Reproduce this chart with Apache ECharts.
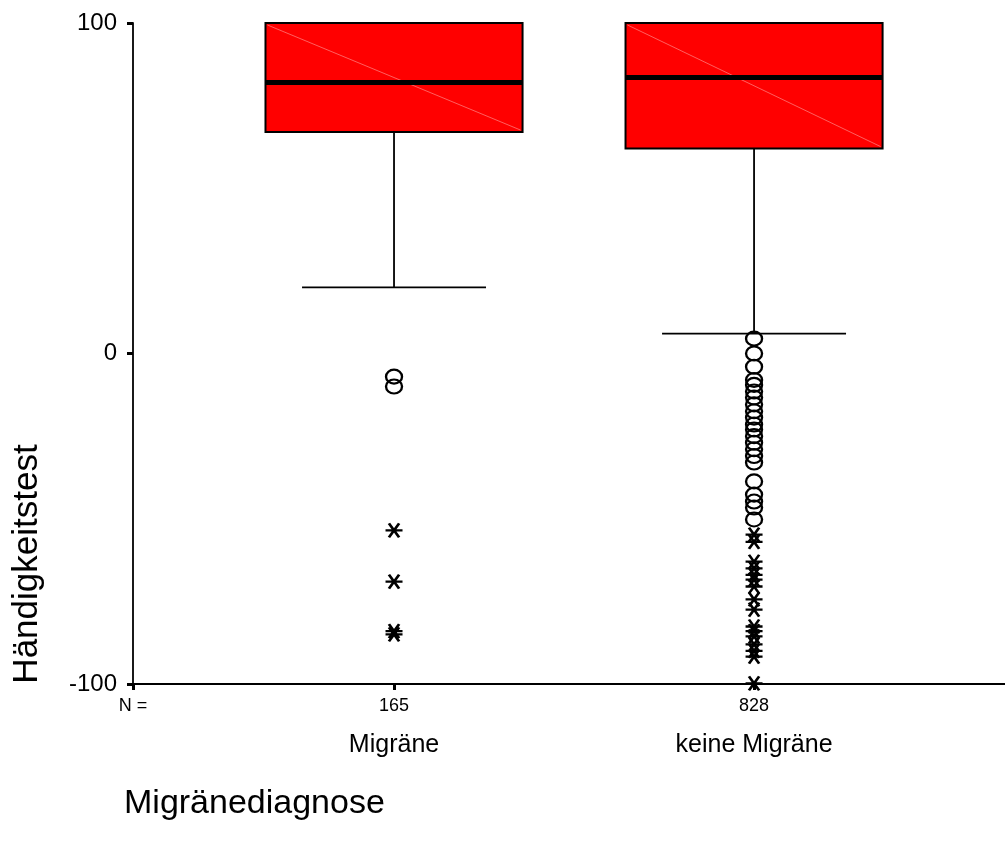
<!DOCTYPE html>
<html>
<head>
<meta charset="utf-8">
<script src="https://cdn.jsdelivr.net/npm/echarts@6/dist/echarts.min.js"></script>
<style>
  html, body { margin: 0; padding: 0; background: #fff; }
  #chart { width: 1005px; height: 844px; }
</style>
</head>
<body>
<div id="chart"></div>
<script>
// data
const categories = ["Migräne", "keine Migräne"];
const nCounts = [165, 828];
const whiskerLow = [20, 6];
const q1 = [67, 62];
const median = [82, 83.5];
const q3 = [100, 100];
const whiskerHigh = [100, 100];

// outliers (circles) and extremes (stars), per group
const circlesMigraene = [-7, -10];
const circlesKeine = [4.5, 0, -4, -8, -9.5, -11.5, -13.3, -15.4, -17.5, -19.4, -21.5, -23, -25, -27, -29, -31, -33, -38.7, -42.7, -44.8, -46.6, -50.2];
const starsMigraene = [-53.5, -69, -84, -85];
const starsKeine = [-54.8, -57, -63, -65, -67, -68.4, -70.5, -74.4, -77.5, -82.6, -84, -85.6, -88, -90, -91.7, -99.8];

const yTicks = [-100, 0, 100];

const FONT = "Liberation Sans, Arial, sans-serif";
const xMin = 0.275, xMax = 2.697;

const boxData = categories.map((c, i) => [i + 1, whiskerLow[i], q1[i], median[i], q3[i], whiskerHigh[i]]);
const circleData = [].concat(
  circlesMigraene.map(v => [1, v]),
  circlesKeine.map(v => [2, v])
);
const starData = [].concat(
  starsMigraene.map(v => [1, v]),
  starsKeine.map(v => [2, v])
);

function renderBox(params, api) {
  const x = api.value(0);
  const lo = api.coord([x, api.value(1)]);
  const b1 = api.coord([x, api.value(2)]);
  const md = api.coord([x, api.value(3)]);
  const b3 = api.coord([x, api.value(4)]);
  const hi = api.coord([x, api.value(5)]);
  const bw = api.size([0.714, 0])[0];
  const cw = api.size([0.511, 0])[0];
  const cx = lo[0];
  const line = { stroke: "#000", lineWidth: 1.8 };
  return {
    type: "group",
    children: [
      { type: "line", shape: { x1: cx, y1: lo[1], x2: cx, y2: b1[1] }, style: line },
      { type: "line", shape: { x1: cx - cw / 2, y1: lo[1], x2: cx + cw / 2, y2: lo[1] }, style: line },
      { type: "line", shape: { x1: cx, y1: hi[1], x2: cx, y2: b3[1] }, style: line },
      { type: "line", shape: { x1: cx - cw / 2, y1: hi[1], x2: cx + cw / 2, y2: hi[1] }, style: line },
      { type: "rect", shape: { x: cx - bw / 2, y: b3[1], width: bw, height: b1[1] - b3[1] },
        style: { fill: "#ff0000", stroke: "#000", lineWidth: 2 } },
      { type: "line", shape: { x1: cx - bw / 2 + 2, y1: b3[1] + 2, x2: cx + bw / 2 - 2, y2: b1[1] - 2 },
        style: { stroke: "rgba(255,150,150,0.8)", lineWidth: 0.8 } },
      { type: "line", shape: { x1: cx - bw / 2, y1: md[1], x2: cx + bw / 2, y2: md[1] },
        style: { stroke: "#000", lineWidth: 5 } }
    ]
  };
}

const chart = echarts.init(document.getElementById("chart"));
chart.setOption({
  animation: false,
  title: {
    text: "Migränediagnose",
    left: 119,
    top: 782,
    textStyle: { fontSize: 34, fontWeight: "normal", color: "#000", fontFamily: FONT }
  },
  graphic: [{
    type: "text",
    x: 27,
    y: 564,
    rotation: Math.PI / 2,
    style: { text: "Händigkeitstest", font: "35px " + FONT, fill: "#000", align: "center", verticalAlign: "middle" }
  }],
  grid: { left: 133, right: 0, top: 23, bottom: 160, containLabel: false },
  xAxis: [{
    type: "value",
    min: xMin,
    max: xMax,
    position: "bottom",
    splitLine: { show: false },
    axisLine: { onZero: false, lineStyle: { color: "#000", width: 1.8 } },
    axisTick: { customValues: [xMin, 1, 2], length: 6, lineStyle: { color: "#000", width: 3 } },
    axisLabel: {
      customValues: [xMin, 1, 2],
      formatter: v => (v < 0.5 ? "N =" : String(nCounts[Math.round(v) - 1])),
      fontSize: 18, color: "#000", fontFamily: FONT, margin: 13
    }
  }, {
    type: "value",
    min: xMin,
    max: xMax,
    position: "bottom",
    splitLine: { show: false },
    axisLine: { show: false, onZero: false },
    axisTick: { show: false },
    axisLabel: {
      customValues: [1, 2],
      formatter: v => categories[Math.round(v) - 1],
      fontSize: 25, color: "#000", fontFamily: FONT, margin: 49
    }
  }],
  yAxis: {
    type: "value",
    min: yTicks[0],
    max: yTicks[2],
    interval: 100,
    splitLine: { show: false },
    axisLine: { show: true, onZero: false, lineStyle: { color: "#000", width: 1.8 } },
    axisTick: { show: true, length: 6, lineStyle: { color: "#000", width: 3 } },
    axisLabel: { fontSize: 24, color: "#000", fontFamily: FONT, margin: 16 }
  },
  series: [{
    type: "custom",
    renderItem: renderBox,
    data: boxData,
    clip: false,
    z: 2
  }, {
    type: "scatter",
    data: circleData,
    symbol: "circle",
    symbolSize: [16, 14],
    clip: false,
    itemStyle: { color: "rgba(0,0,0,0)", borderColor: "#000", borderWidth: 2.2, opacity: 1 },
    z: 3
  }, {
    type: "scatter",
    data: starData,
    symbol: "path://M0,5 L10,5 M2,0 L8,10 M8,0 L2,10",
    symbolSize: [17, 14],
    clip: false,
    itemStyle: { color: "none", borderColor: "#000", borderWidth: 2.5, opacity: 1 },
    z: 3
  }]
});
</script>
</body>
</html>
